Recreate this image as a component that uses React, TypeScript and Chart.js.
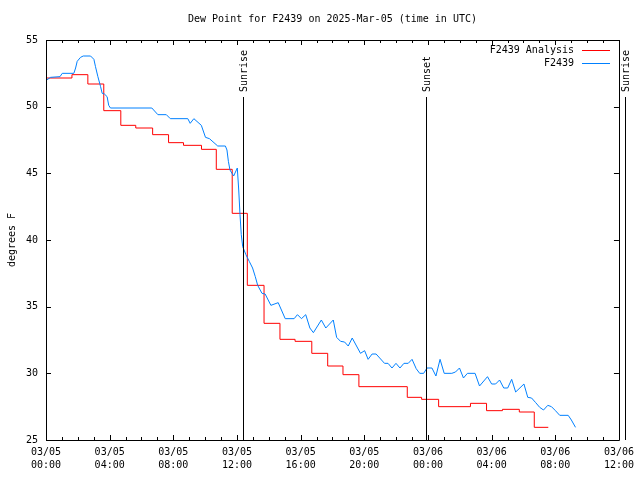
import React, { useEffect, useRef } from 'react';
import { Chart, registerables } from 'chart.js';

Chart.register(...registerables);

const TITLE = 'Dew Point for F2439 on 2025-Mar-05 (time in UTC)';
const Y_TITLE = 'degrees F';
const FONT = '"DejaVu Sans Mono", "Liberation Mono", monospace';

// hours since 2025-03-05 00:00 UTC
const analysisLabel = 'F2439 Analysis';
const analysisHours = [0, 1.63, 2.63, 3.63, 4.7, 5.64, 6.7, 7.7, 8.64, 9.77, 10.7, 11.7, 12.65, 13.7, 14.7, 15.65, 16.7, 17.7, 18.66, 19.66, 22.7, 23.6, 24.67, 26.67, 27.68, 28.68, 29.74, 30.68, 31.56];
const analysisValues = [52.15, 52.4, 51.7, 49.7, 48.6, 48.4, 47.9, 47.3, 47.1, 46.8, 45.3, 42.0, 36.6, 33.75, 32.55, 32.4, 31.5, 30.55, 29.9, 29.0, 28.2, 28.05, 27.5, 27.75, 27.2, 27.3, 27.1, 25.95, 25.95];

const obsLabel = 'F2439';
const obsHours = [0.04, 0.29, 0.88, 1.02, 1.75, 1.86, 1.96, 2.17, 2.34, 2.8, 3.01, 3.11, 3.26, 3.43, 3.53, 3.67, 3.84, 3.94, 4.05, 6.65, 7.03, 7.56, 7.81, 8.91, 9.06, 9.29, 9.76, 10.02, 10.27, 10.79, 11.27, 11.37, 11.46, 11.56, 11.79, 12.02, 12.11, 12.19, 12.27, 12.36, 12.56, 12.77, 12.98, 13.15, 13.3, 13.57, 13.77, 14.13, 14.59, 15.03, 15.59, 15.8, 16.05, 16.32, 16.58, 16.8, 17.3, 17.58, 18.05, 18.26, 18.51, 18.76, 18.99, 19.24, 19.76, 20.02, 20.24, 20.49, 20.74, 21.27, 21.49, 21.74, 21.99, 22.24, 22.49, 22.76, 23.0, 23.26, 23.48, 23.73, 23.94, 24.25, 24.5, 24.76, 25.02, 25.5, 25.73, 25.98, 26.23, 26.48, 26.96, 27.24, 27.74, 28.0, 28.25, 28.5, 28.76, 29.01, 29.26, 29.51, 30.03, 30.27, 30.51, 30.77, 31.02, 31.26, 31.53, 31.76, 32.01, 32.28, 32.81, 33.01, 33.27];
const obsValues = [52.0, 52.2, 52.25, 52.5, 52.5, 52.9, 53.4, 53.7, 53.8, 53.8, 53.55, 53.0, 52.25, 51.5, 51.0, 50.95, 50.75, 50.1, 49.9, 49.9, 49.4, 49.4, 49.1, 49.1, 48.75, 49.1, 48.6, 47.7, 47.6, 47.05, 47.05, 46.75, 45.9, 45.25, 44.8, 45.4, 43.75, 41.9, 40.4, 39.5, 38.9, 38.4, 37.9, 37.25, 36.6, 36.0, 35.95, 35.1, 35.3, 34.1, 34.1, 34.4, 34.1, 34.4, 33.4, 33.05, 34.0, 33.4, 34.0, 32.7, 32.4, 32.35, 32.05, 32.65, 31.5, 31.7, 31.05, 31.45, 31.45, 30.75, 30.75, 30.4, 30.75, 30.4, 30.75, 30.75, 31.05, 30.35, 30.0, 30.0, 30.4, 30.4, 29.8, 31.05, 30.0, 30.0, 30.1, 30.4, 29.65, 30.0, 30.0, 29.05, 29.75, 29.2, 29.2, 29.5, 28.9, 28.9, 29.55, 28.6, 29.2, 28.2, 28.15, 27.8, 27.45, 27.25, 27.6, 27.5, 27.2, 26.85, 26.85, 26.5, 25.95];

const xTickDates = ['03/05', '03/05', '03/05', '03/05', '03/05', '03/05', '03/06', '03/06', '03/06', '03/06'];
const xTickTimes = ['00:00', '04:00', '08:00', '12:00', '16:00', '20:00', '00:00', '04:00', '08:00', '12:00'];

const sunLabels = ['Sunrise', 'Sunset', 'Sunrise'];
const sunHours = [12.4, 23.88, 36.38];

const decorPlugin = {
  id: 'decor',
  afterDatasetsDraw(chart: any) {
    const { ctx, chartArea, scales } = chart;
    const { left, right, top, bottom } = chartArea;
    const xs = scales.x;
    const ys = scales.y;
    ctx.save();
    ctx.strokeStyle = '#000';
    ctx.lineWidth = 1;
    // frame
    ctx.beginPath();
    ctx.rect(Math.round(left) + 0.5, Math.round(top) + 0.5, Math.round(right - left), Math.round(bottom - top));
    ctx.stroke();
    // x ticks (hourly, major every 4h) bottom and top
    ctx.beginPath();
    for (let h = 0; h <= 36; h++) {
      const px = Math.round(xs.getPixelForValue(h)) + 0.5;
      const len = h % 4 === 0 ? 5 : 3;
      ctx.moveTo(px, bottom);
      ctx.lineTo(px, bottom - len);
      ctx.moveTo(px, top);
      ctx.lineTo(px, top + len);
    }
    for (let v = 25; v <= 55; v += 5) {
      const py = Math.round(ys.getPixelForValue(v)) + 0.5;
      ctx.moveTo(left, py);
      ctx.lineTo(left + 5, py);
      ctx.moveTo(right, py);
      ctx.lineTo(right - 5, py);
    }
    ctx.stroke();
    // sunrise / sunset
    ctx.font = `10px ${FONT}`;
    ctx.fillStyle = '#000';
    sunHours.forEach((h, i) => {
      const px = Math.round(xs.getPixelForValue(h)) + 0.5;
      ctx.beginPath();
      ctx.moveTo(px, 97);
      ctx.lineTo(px, bottom);
      ctx.stroke();
      ctx.save();
      ctx.translate(px + 1, 92);
      ctx.rotate(-Math.PI / 2);
      ctx.textAlign = 'left';
      ctx.textBaseline = 'middle';
      ctx.fillText(sunLabels[i], 0, 0);
      ctx.restore();
    });
    // title
    ctx.textAlign = 'center';
    ctx.textBaseline = 'middle';
    ctx.fillText(TITLE, (left + right) / 2, 19);
    // legend
    const items = [
      { label: analysisLabel, color: chart.data.datasets[0].borderColor },
      { label: obsLabel, color: chart.data.datasets[1].borderColor },
    ];
    items.forEach((it, i) => {
      const y = 50 + i * 13;
      ctx.fillStyle = '#000';
      ctx.textAlign = 'right';
      ctx.fillText(it.label, 574, y);
      ctx.strokeStyle = it.color;
      ctx.beginPath();
      ctx.moveTo(582, y + 0.5);
      ctx.lineTo(610, y + 0.5);
      ctx.stroke();
    });
    ctx.restore();
  },
};

export default function App() {
  const ref = useRef<HTMLCanvasElement | null>(null);
  useEffect(() => {
    if (!ref.current) return;
    const chart = new Chart(ref.current, {
      type: 'line',
      data: {
        datasets: [
          {
            label: analysisLabel,
            data: analysisHours.map((h, i) => ({ x: h, y: analysisValues[i] })),
            borderColor: '#ff0000',
            borderWidth: 1,
            pointRadius: 0,
            stepped: true,
            tension: 0,
            order: 1,
          },
          {
            label: obsLabel,
            data: obsHours.map((h, i) => ({ x: h, y: obsValues[i] })),
            borderColor: '#0080ff',
            borderWidth: 1,
            pointRadius: 0,
            tension: 0,
            order: 0,
          },
        ],
      },
      options: {
        animation: false,
        responsive: false,
        devicePixelRatio: 1,
        layout: { padding: { top: 40, right: 19, left: 0, bottom: 0 } },
        plugins: {
          legend: { display: false },
          tooltip: { enabled: false },
          title: { display: false },
        },
        scales: {
          x: {
            type: 'linear',
            min: 0,
            max: 36,
            grid: { display: false, drawTicks: false },
            border: { display: false },
            ticks: {
              stepSize: 4,
              autoSkip: false,
              maxRotation: 0,
              padding: 6,
              color: '#000',
              font: { family: FONT, size: 10, lineHeight: 1.3 },
              callback: (v: any) => {
                const i = Math.round(Number(v) / 4);
                return [xTickDates[i], xTickTimes[i]];
              },
            },
            afterFit: (s: any) => { s.height = 40; },
          },
          y: {
            type: 'linear',
            min: 25,
            max: 55,
            grid: { display: false, drawTicks: false },
            border: { display: false },
            ticks: {
              stepSize: 5,
              padding: 8,
              color: '#000',
              font: { family: FONT, size: 10 },
            },
            title: {
              display: true,
              text: Y_TITLE,
              color: '#000',
              font: { family: FONT, size: 10, lineHeight: 1.2 },
              padding: { top: 6, bottom: 0 },
            },
            afterFit: (s: any) => { s.width = 46; },
          },
        },
      },
      plugins: [decorPlugin],
    });
    return () => chart.destroy();
  }, []);
  return (
    <div style={{ position: 'fixed', left: 0, top: 0, width: 640, height: 480, background: '#fff' }}>
      <canvas ref={ref} width={640} height={480} />
    </div>
  );
}
